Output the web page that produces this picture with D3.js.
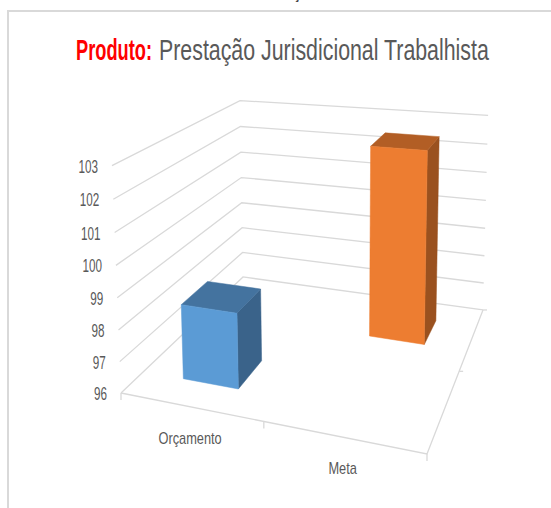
<!DOCTYPE html>
<html>
<head>
<meta charset="utf-8">
<script src="https://cdn.jsdelivr.net/npm/d3@7"></script>
<style>
  html, body { margin: 0; padding: 0; background: #fff; }
  svg { display: block; }
  text { font-family: "Liberation Sans", sans-serif; }
</style>
</head>
<body>
<svg width="551" height="508"></svg>
<script>
const categories = ["Orçamento", "Meta"];
const values = [98.4, 102.5];
const ticks = [96, 97, 98, 99, 100, 101, 102, 103];
const barColors = [
  { front: "#5b9bd5", top: "#44739f", side: "#3a638a" },
  { front: "#ed7d31", top: "#b25e25", side: "#9a511f" },
];

const svg = d3.select("svg");

// floor and wall projection, fitted on the corners of the picture
// u = left to right, v = front to back, z = height 0..1
function project(u, v, z) {
  const w = 1 - 0.1248 * u + 0.3041 * v - 0.04 * z;
  return [
    (252.7 * u + 195.9 * v - 13.5 * z + 121) / w,
    (4.34 * u - 31.8 * v - 234 * z + 393) / w,
  ];
}

const zScale = d3.scaleLinear().domain([96, 103]).range([0, 1]);
const uScale = d3.scaleBand().domain(categories).range([0, 1]).paddingInner(0.6).paddingOuter(0.3);
// each category has its own row in depth
const vScale = d3.scaleBand().domain(categories).range([0, 1]).paddingInner(0.6).paddingOuter(0.3);
const line = d3.line();

// the text in the reference is squeezed sideways, so scale it instead of using a font
function squeezed(sel, x, y, factor, anchor) {
  sel.attr("text-anchor", anchor)
    .attr("transform", `translate(${x},${y}) scale(${factor},1)`);
  return sel;
}

// frame, only the left and top sides are inside the picture
svg.append("rect")
  .attr("x", 8).attr("y", 11)
  .attr("width", 600).attr("height", 600)
  .attr("fill", "none")
  .attr("stroke", "#d9d9d9")
  .attr("stroke-width", 2);

// end of a heading above the frame, cut by the top of the picture
svg.append("text")
  .attr("x", 293).attr("y", -1)
  .attr("font-size", 15)
  .attr("fill", "#222")
  .text("ç");

// title
const title = svg.append("g")
  .attr("font-size", 29);
const t1 = title.append("text")
  .attr("font-weight", "bold")
  .attr("fill", "#ff0000")
  .text("Produto:");
squeezed(t1, 76, 60, 76 / t1.node().getComputedTextLength(), "start");
const t2 = title.append("text")
  .attr("fill", "#595959")
  .text("Prestação Jurisdicional Trabalhista");
squeezed(t2, 159, 60, 330 / t2.node().getComputedTextLength(), "start");

// grid lines on both walls
const grid = svg.append("g")
  .attr("fill", "none")
  .attr("stroke", "#d9d9d9")
  .attr("stroke-width", 1.3);
ticks.forEach((t) => {
  const z = zScale(t);
  grid.append("path").attr("d", line([project(0, 0, z), project(0, 1, z), project(1, 1, z)]));
});

// floor edges and tick marks
grid.append("path").attr("d", line([project(0, 0, 0), project(1, 0, 0), project(1, 1, 0)]));
[0, 0.5, 1].forEach((u) => {
  const p = project(u, 0, 0);
  grid.append("path").attr("d", line([p, [p[0], p[1] + 7]]));
});
[0.5, 1].forEach((v) => {
  const p = project(1, v, 0);
  grid.append("path").attr("d", line([p, [p[0] + 4, p[1]]]));
});

// value labels
svg.append("g")
  .attr("font-size", 18)
  .attr("fill", "#595959")
  .selectAll("text")
  .data(ticks)
  .join("text")
  .text((d) => d)
  .each(function (d) {
    const p = project(0, 0, zScale(d));
    squeezed(d3.select(this), p[0] - 14, p[1] + 7, 0.65, "end");
  });

// category labels
svg.append("g")
  .attr("font-size", 16)
  .attr("fill", "#595959")
  .selectAll("text")
  .data(categories)
  .join("text")
  .text((d) => d)
  .each(function (d) {
    const p = project(uScale(d) + uScale.bandwidth() / 2, 0, 0);
    squeezed(d3.select(this), p[0], p[1] + 37, 0.8, "middle");
  });

// bars
const bars = svg.append("g").selectAll("g")
  .data(categories)
  .join("g");

bars.each(function (d, i) {
  const u0 = uScale(d), u1 = u0 + uScale.bandwidth();
  const v0 = vScale(d), v1 = v0 + vScale.bandwidth();
  const z = zScale(values[i]);
  const g = d3.select(this);
  const poly = (pts, fill) => g.append("path")
    .attr("d", line(pts) + "Z")
    .attr("fill", fill)
    .attr("stroke", fill)
    .attr("stroke-width", 0.5);
  poly([project(u1, v0, 0), project(u1, v1, 0), project(u1, v1, z), project(u1, v0, z)], barColors[i].side);
  poly([project(u0, v0, z), project(u1, v0, z), project(u1, v1, z), project(u0, v1, z)], barColors[i].top);
  poly([project(u0, v0, 0), project(u1, v0, 0), project(u1, v0, z), project(u0, v0, z)], barColors[i].front);
});
</script>
</body>
</html>
